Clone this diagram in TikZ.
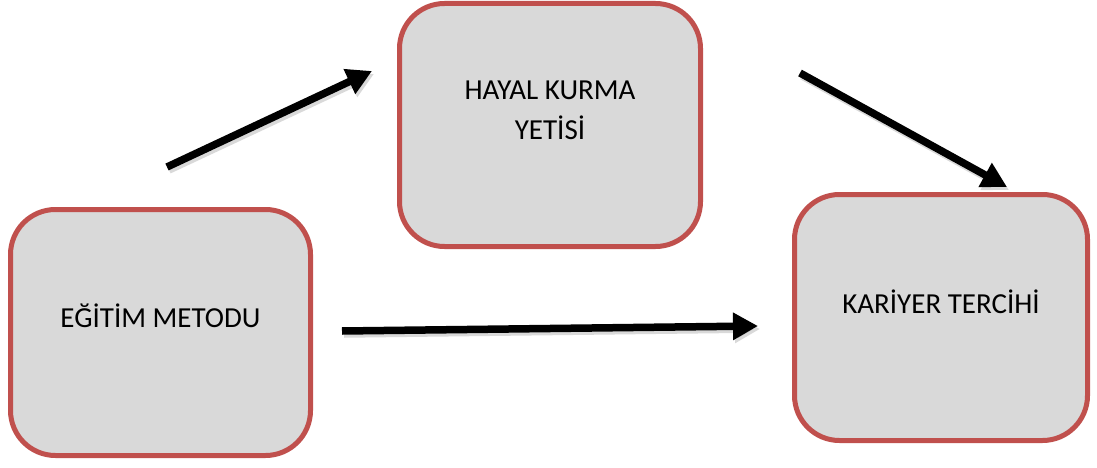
\documentclass[tikz,border=0pt]{standalone}
\usepackage{fontspec}
\setmainfont{Carlito}
\usetikzlibrary{arrows.meta,calc}
\definecolor{boxfill}{HTML}{D9D9D9}
\definecolor{boxline}{HTML}{C0504D}
\begin{document}
\begin{tikzpicture}[x=1pt,y=-1pt,
    kutu/.style={rectangle,draw=boxline,fill=boxfill,line width=5pt,
        rounded corners=45pt,inner sep=0pt},
    yazi/.style={align=center,font=\fontsize{29}{40}\selectfont},
    ok/.style={line width=7.5pt,-{Triangle[length=25pt,width=26pt]}},
    golge/.style={line width=7.5pt,draw=black,opacity=.15,
        -{Triangle[length=25pt,width=26pt]}}]
            \useasboundingbox (0,0) rectangle (1097,468);
            \draw (160.5,332.5) node[kutu,minimum width=300pt,
             minimum height=246pt] (E) {};
            \draw (550,125) node[kutu,minimum width=301pt,
             minimum height=243pt] (H) {};
            \draw (941,317.5) node[kutu,minimum width=293pt,
             minimum height=246pt] (K) {};
            \draw (E.center) ++(0,-17) node[yazi] (Et) {EĞİTİM METODU};
            \draw (H.center) ++(0,-15) node[yazi] (Ht) {HAYAL KURMA\\YETİSİ};
            \draw (K.center) ++(0,-16) node[yazi] (Kt) {KARİYER TERCİHİ};

            \coordinate (a1) at (167,167);
            \coordinate (a2) at (372,71);
            \coordinate (b1) at (800,73);
            \coordinate (b2) at (1007,187);
            \coordinate (c1) at (342,331);
            \coordinate (c2) at (758,326);
            \draw[golge] ($(a1)+(2,3)$)--($(a2)+(2,3)$);
            \draw[golge] ($(b1)+(2,3)$)--($(b2)+(2,3)$);
            \draw[golge] ($(c1)+(2,3)$)--($(c2)+(2,3)$);
            \draw[ok] (a1)--(a2);
            \draw[ok] (b1)--(b2);
            \draw[ok] (c1)--(c2);
            \end{tikzpicture}
\end{document}
